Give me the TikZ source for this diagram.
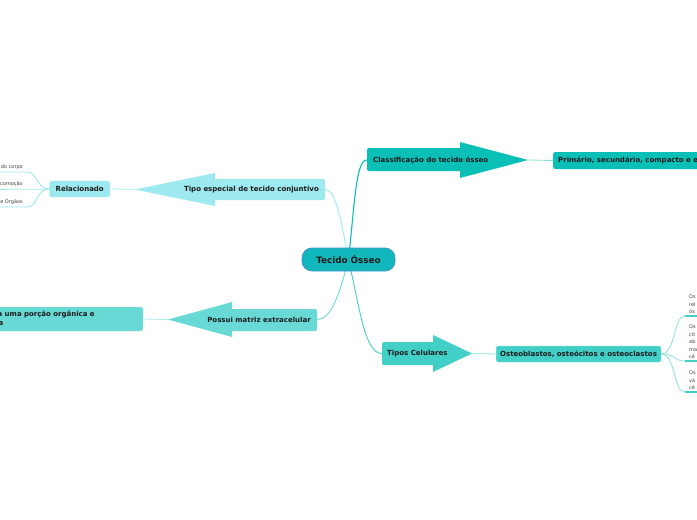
\documentclass[tikz,border=0pt]{standalone}
\usepackage{fontspec}
\setmainfont{DejaVu Sans}
\usepackage{tikz}
\usetikzlibrary{calc,backgrounds}
\usepackage{xcolor}
\definecolor{rootteal}{HTML}{12B7BB}
\definecolor{rootedge}{HTML}{3E93CC}
\definecolor{deepteal}{HTML}{0ABFB6}
\definecolor{paleaqua}{HTML}{9DE9F0}
\definecolor{midaqua}{HTML}{69D9D6}
\definecolor{celteal}{HTML}{41CFC8}
\definecolor{inkdark}{HTML}{1A1A1A}

\begin{document}
\begin{tikzpicture}[x=1pt,y=-1pt,
    branchtext/.style={font=\bfseries\fontsize{7}{8}\selectfont, text=inkdark, inner xsep=6pt, inner ysep=0pt},
    subbox/.style={rounded corners=2pt, font=\bfseries\fontsize{7}{8}\selectfont, text=inkdark, inner xsep=5pt, inner ysep=2pt, minimum height=16pt},
    leaf/.style={font=\fontsize{5}{7.5}\selectfont, text=black!75, inner xsep=4pt, inner ysep=2pt},
    link/.style={line width=0.9pt}]
      \useasboundingbox (0,0) rectangle (697,520);
      \clip (0,0) rectangle (697,520);
      % Branch arrows (body + head)
      \fill[deepteal, rounded corners=2pt] (367,148) rectangle (462,171);
      \fill[deepteal] (460,142) -- (528,160) -- (460,178) -- cycle;
      \fill[paleaqua, rounded corners=2pt] (213,179) rectangle (325,200);
      \fill[paleaqua] (215,173) -- (135,189.5) -- (215,206) -- cycle;
      \fill[midaqua, rounded corners=2pt] (230,309) rectangle (317,331);
      \fill[midaqua] (232,302) -- (168,319.5) -- (232,337) -- cycle;
      \fill[celteal, rounded corners=2pt] (382,342) rectangle (435,365);
      \fill[celteal] (433,335) -- (472,353.5) -- (433,372) -- cycle;
      \coordinate (clsTip) at (528,160);
      \coordinate (tipoTip) at (135,189.5);
      \coordinate (possuiTip) at (168,319.5);
      \coordinate (tiposTip) at (472,353.5);
      % Central topic
      \node[rounded corners=10pt, fill=rootteal, draw=rootedge, line width=0.8pt,
        minimum width=93pt, minimum height=23pt, text=inkdark,
        font=\bfseries\fontsize{8.8}{10}\selectfont] (root) at (348.5,259.5) {Tecido Ósseo};
      % Branch labels
      \node[branchtext, anchor=west] (cls) at (367,160) {Classificação do tecido ósseo};
      \node[branchtext, anchor=east] (tipo) at (325,189.5) {Tipo especial de tecido conjuntivo};
      \node[branchtext, anchor=east] (possui) at (317,319.5) {Possui matriz extracelular};
      \node[branchtext, anchor=west, inner xsep=5pt] (tipos) at (382,353.5) {Tipos Celulares};
      % Sub topics
      \node[subbox, fill=deepteal, anchor=west, minimum height=17pt] (prim) at (553,160.5)
        {Primário, secundário, compacto e esponjoso};
      \node[subbox, fill=paleaqua, draw=paleaqua!70!white, anchor=east, inner xsep=6pt] (rel) at (110,189) {Relacionado};
      \node[subbox, fill=midaqua, anchor=east, text width=175pt, align=left, minimum height=24pt,
        inner xsep=6pt, font=\bfseries\fontsize{7}{8.5}\selectfont] (porc) at (143,319)
        {Apresenta uma porção orgânica e\\inorgânica};
      \node[subbox, fill=celteal, draw=celteal!60!white, anchor=west, inner xsep=4pt] (ost) at (496,354)
        {Osteoblastos, osteócitos e osteoclastos};
      % Leaves
      \node[leaf, anchor=south east] (sust) at (27,172) {Sustentação do corpo};
      \node[leaf, anchor=south east] (loco) at (27,189) {Locomoção};
      \node[leaf, anchor=south east] (prot) at (27,207) {Proteção de Órgãos};
      \node[leaf, anchor=south west, text width=20pt, align=left] (obl) at (685,316) {Os\\rel\\ós};
      \node[leaf, anchor=south west, text width=20pt, align=left] (ocit) at (685,361) {Os\\cit\\ab\\ma\\cé};
      \node[leaf, anchor=south west, text width=20pt, align=left] (ocla) at (685,392) {Os\\vá\\cé};
      % Connectors
      \begin{scope}[on background layer]
        \fill[white] (0,0) rectangle (697,520);
        \draw[link, deepteal, line width=1.1pt] (root.center) .. controls (355,200) and (356,160) .. (cls.west);
        \draw[link, paleaqua] (root.center) .. controls (341,220) and (336,189.5) .. (tipo.east);
        \draw[link, midaqua] (root.center) .. controls (338,300) and (330,319.5) .. (possui.east);
        \draw[link, celteal] (root.center) .. controls (360,310) and (365,353.5) .. (tipos.west);
        \draw[link, deepteal!45!white] (clsTip) -- (prim.west);
        \draw[link, paleaqua!70!white] (tipoTip) -- (rel.east);
        \draw[link, midaqua!50!white] (possuiTip) -- (porc.east);
        \draw[link, celteal!50!white] (tiposTip) -- (ost.west);
        \draw[link, paleaqua] (rel.west) .. controls (36,189) and (38,172) .. (sust.south east) -- (sust.south west);
        \draw[link, paleaqua] (rel.west) -- (loco.south east) -- (loco.south west);
        \draw[link, paleaqua] (rel.west) .. controls (36,189) and (38,207) .. (prot.south east) -- (prot.south west);
        \draw[link, celteal!55!white] (ost.east) .. controls (676,354) and (673,316) .. (obl.south west);
        \draw[link, celteal!55!white] (ost.east) .. controls (676,354) and (673,361) .. (ocit.south west);
        \draw[link, celteal!55!white] (ost.east) .. controls (676,354) and (673,392) .. (ocla.south west);
        \foreach \n in {obl,ocit,ocla}{
          \draw[celteal, line width=1.1pt] (\n.south west) -- (\n.south east);
        }
      \end{scope}
    \end{tikzpicture}
\end{document}
